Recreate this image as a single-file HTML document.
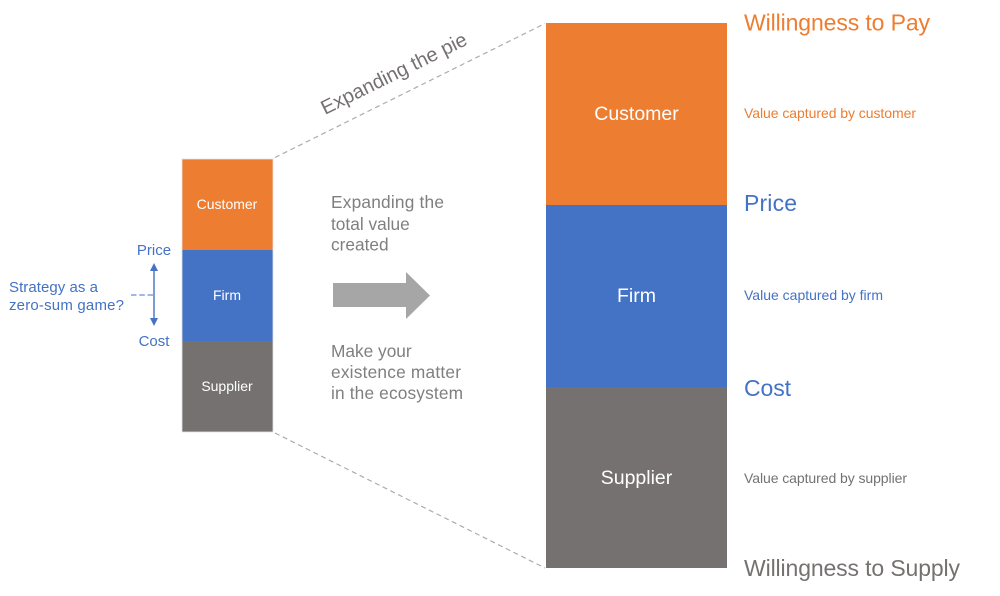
<!DOCTYPE html>
<html>
<head>
<meta charset="utf-8">
<style>
html,body{margin:0;padding:0;background:#fff;width:1000px;height:596px;overflow:hidden}
svg{display:block;filter:blur(0.35px)}
text{font-family:"Liberation Sans",Arial,sans-serif}
</style>
</head>
<body>
<svg width="1000" height="596" viewBox="0 0 1000 596" xmlns="http://www.w3.org/2000/svg">
<rect width="1000" height="596" fill="#fff"/>

<!-- dashed connectors -->
<line x1="275" y1="157.5" x2="545" y2="23.5" stroke="#AFABAB" stroke-width="1.2" stroke-dasharray="5 3.6"/>
<line x1="275" y1="433" x2="545" y2="568" stroke="#AFABAB" stroke-width="1.2" stroke-dasharray="5 3.6"/>

<!-- small stack -->
<rect x="182" y="159" width="91" height="91" fill="#ED7D31"/>
<rect x="182" y="250" width="91" height="91" fill="#4472C4"/>
<rect x="182" y="341" width="91" height="91" fill="#767171"/>
<rect x="182" y="159" width="91" height="273" fill="none" stroke="#E3E3E3" stroke-width="0.8"/>
<text x="227" y="209" font-size="14" fill="#fff" text-anchor="middle">Customer</text>
<text x="227" y="300" font-size="14" fill="#fff" text-anchor="middle">Firm</text>
<text x="227" y="391" font-size="14" fill="#fff" text-anchor="middle">Supplier</text>

<!-- big stack -->
<rect x="546" y="23" width="181" height="182" fill="#ED7D31"/>
<rect x="546" y="205" width="181" height="182" fill="#4472C4"/>
<rect x="546" y="387" width="181" height="181" fill="#767171"/>
<text x="636.5" y="120" font-size="19.5" fill="#fff" text-anchor="middle">Customer</text>
<text x="636.5" y="302" font-size="19.5" fill="#fff" text-anchor="middle">Firm</text>
<text x="636.5" y="484" font-size="19.5" fill="#fff" text-anchor="middle">Supplier</text>

<!-- left labels -->
<text x="154" y="255" font-size="15" fill="#4472C4" text-anchor="middle">Price</text>
<text x="154" y="346" font-size="15" fill="#4472C4" text-anchor="middle">Cost</text>
<text x="9" y="292" font-size="15" fill="#4472C4" textLength="89" lengthAdjust="spacing">Strategy as a</text>
<text x="9" y="310" font-size="15" fill="#4472C4" textLength="115" lengthAdjust="spacing">zero-sum game?</text>
<line x1="154" y1="270" x2="154" y2="320" stroke="#4472C4" stroke-width="1.4"/>
<polygon points="154,263 158,271 150,271" fill="#4472C4"/>
<polygon points="154,326 158,318 150,318" fill="#4472C4"/>
<line x1="131" y1="295" x2="153" y2="295" stroke="#4472C4" stroke-width="1" stroke-dasharray="5.5 2.8"/>

<!-- rotated label -->
<text transform="translate(325 115) rotate(-26.3)" font-size="20" fill="#767171">Expanding the pie</text>

<!-- middle text -->
<g font-size="17.3" fill="#7F7F7F">
<text x="331" y="208" textLength="113" lengthAdjust="spacing">Expanding the</text>
<text x="331" y="230">total value</text>
<text x="331" y="250.5">created</text>
<text x="331" y="357">Make your</text>
<text x="331" y="378" textLength="130" lengthAdjust="spacing">existence matter</text>
<text x="331" y="399" textLength="132" lengthAdjust="spacing">in the ecosystem</text>
</g>
<polygon points="333,283 406,283 406,272 430,295.5 406,319 406,307 333,307" fill="#A6A6A6"/>

<!-- right labels -->
<text x="744" y="30.5" font-size="23" fill="#ED7D31" textLength="186" lengthAdjust="spacing">Willingness to Pay</text>
<text x="744" y="118" font-size="14" fill="#ED7D31" textLength="172" lengthAdjust="spacing">Value captured by customer</text>
<text x="744" y="211" font-size="23" fill="#4472C4" textLength="53" lengthAdjust="spacing">Price</text>
<text x="744" y="300" font-size="14" fill="#4472C4" textLength="139" lengthAdjust="spacing">Value captured by firm</text>
<text x="744" y="396" font-size="23" fill="#4472C4" textLength="47" lengthAdjust="spacing">Cost</text>
<text x="744" y="483" font-size="14" fill="#767171" textLength="163" lengthAdjust="spacing">Value captured by supplier</text>
<text x="744" y="576" font-size="23" fill="#767171" textLength="216" lengthAdjust="spacing">Willingness to Supply</text>
</svg>
</body>
</html>
